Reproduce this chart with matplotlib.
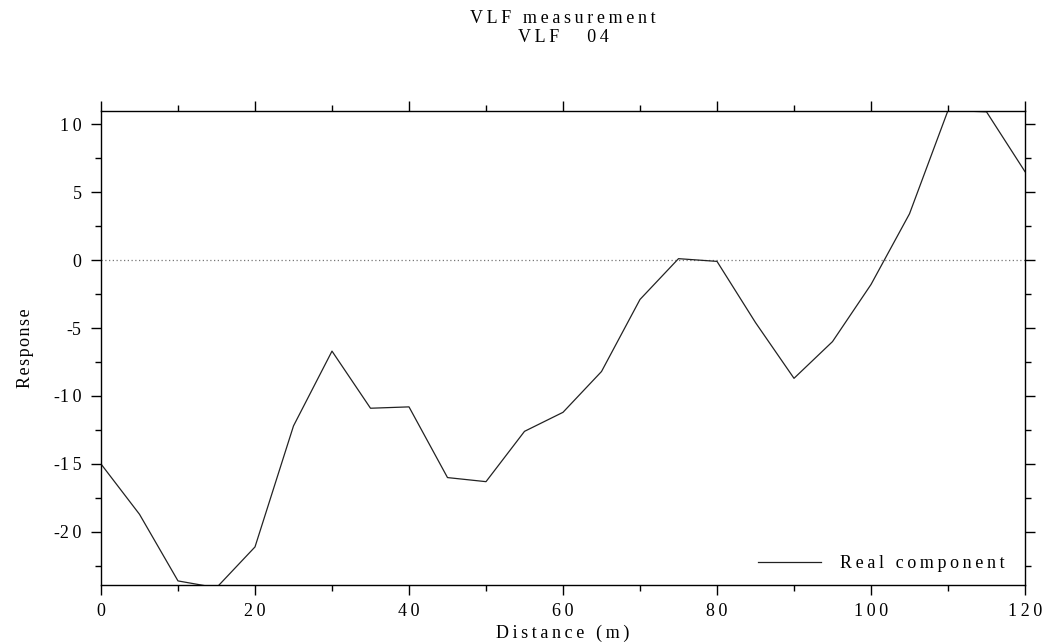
import numpy as np
import matplotlib
matplotlib.use("Agg")
import matplotlib.pyplot as plt
from matplotlib.ticker import MultipleLocator, FuncFormatter

distance = [0, 5, 10, 15, 20, 25, 30, 35, 40, 45, 50, 55, 60,
            65, 70, 75, 80, 85, 90, 95, 100, 105, 110, 115, 120]
real_component = [-15.0, -18.7, -23.6, -24.1, -21.1, -12.2, -6.7, -10.9, -10.8,
                  -16.0, -16.3, -12.6, -11.2, -8.2, -2.9, 0.1, -0.1, -4.6,
                  -8.7, -6.0, -1.8, 3.4, 11.0, 10.9, 6.5]

plt.rcParams["font.family"] = ["Liberation Serif", "DejaVu Serif"]
plt.rcParams["axes.unicode_minus"] = False


def spaced(s, gap="\u2009"):
    # wide letter spacing, like the plotting package output
    return gap.join(s)


def tick_fmt(v, pos):
    n = int(round(v))
    return ("-" if n < 0 else "") + spaced(str(abs(n)))


fig = plt.figure(figsize=(10.46, 6.42), dpi=100)
ax = fig.add_axes([101 / 1046, 1 - 585 / 642, 924 / 1046, 474 / 642])

ax.axhline(0, color="#777777", lw=0.9, ls=(0, (1, 2)))
ax.plot(distance, real_component, color="#222222", lw=0.9,
        label=spaced("Real component"))

ax.set_xlim(0, 120)
ax.set_ylim(-23.9, 10.96)
ax.xaxis.set_major_locator(MultipleLocator(20))
ax.xaxis.set_minor_locator(MultipleLocator(10))
ax.yaxis.set_major_locator(MultipleLocator(5))
ax.yaxis.set_minor_locator(MultipleLocator(2.5))
ax.xaxis.set_major_formatter(FuncFormatter(tick_fmt))
ax.yaxis.set_major_formatter(FuncFormatter(tick_fmt))
ax.tick_params(which="both", direction="out", top=True, right=True,
               labelsize=13, width=1)
ax.tick_params(which="major", length=7)
ax.tick_params(which="minor", length=4.3)
ax.tick_params(axis="x", which="major", pad=6)
ax.tick_params(axis="y", which="major", pad=7)
for s in ax.spines.values():
    s.set_linewidth(1)

ax.set_xlabel(spaced("Distance (m)"), fontsize=13, labelpad=3)
ax.set_ylabel(spaced("Response", "\u200a"), fontsize=13, labelpad=14)
fig.text(563 / 1046, 1 - 28 / 642,
         spaced("VLF measurement") + "\n" + spaced("VLF   04"),
         ha="center", va="center", fontsize=13, linespacing=1.15)

ax.legend(loc="lower right", bbox_to_anchor=(0.997, -0.0105), frameon=False,
          fontsize=13, handlelength=3.5, handletextpad=1.0, borderaxespad=0.6)

fig.savefig("out.png", dpi=100)
